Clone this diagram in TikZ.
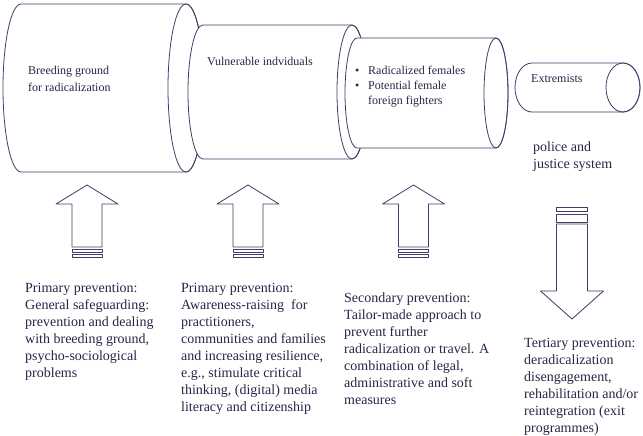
\documentclass[tikz,border=0pt]{standalone}
\usepackage{fontspec}
\setmainfont{Liberation Serif}
\definecolor{lc}{RGB}{62,62,104}
\definecolor{tc}{RGB}{38,38,72}
\newcommand{\cyl}[5]{%
 \filldraw[shapeline, fill=white] ({#1},{#3-#5}) -- ({#2},{#3-#5})
   .. controls ({#2+0.5523*#4},{#3-#5}) and ({#2+#4},{#3-0.5523*#5}) .. ({#2+#4},{#3})
   .. controls ({#2+#4},{#3+0.5523*#5}) and ({#2+0.5523*#4},{#3+#5}) .. ({#2},{#3+#5})
   -- ({#1},{#3+#5})
   .. controls ({#1-0.5523*#4},{#3+#5}) and ({#1-#4},{#3+0.5523*#5}) .. ({#1-#4},{#3})
   .. controls ({#1-#4},{#3-0.5523*#5}) and ({#1-0.5523*#4},{#3-#5}) .. cycle;
 \draw[shapeline] ({#2},{#3}) ellipse [x radius=#4pt, y radius=#5pt];
}
\newcommand{\uparrowshape}[1]{%
 \draw[shapeline] ({#1},185) -- ({#1+31},204) -- ({#1+15},204) -- ({#1+15},247)
   -- ({#1-15},247) -- ({#1-15},204) -- ({#1-31},204) -- cycle;
 \draw[shapeline] ({#1-15},249) rectangle ({#1+15},252.5);
 \draw[shapeline] ({#1-15},254.5) rectangle ({#1+15},257);
}
\newcommand{\lns}[1]{\begin{tabular}[t]{@{}l@{}}#1\end{tabular}}
\tikzset{
 shapeline/.style={draw=lc, line width=0.8pt, line join=round},
 small/.style={text=tc, inner sep=0pt, anchor=base west, font=\fontsize{12}{16.5}\selectfont},
 big/.style={text=tc, inner sep=0pt, anchor=base west, font=\fontsize{14}{17}\selectfont},
}
\begin{document}
\begin{tikzpicture}[x=1pt, y=-1pt]
\useasboundingbox[fill=white] (0,0) rectangle (643,436);
% cylinders
\cyl{21}{186}{88}{18}{84}
\cyl{203}{352}{92}{15}{67}
\cyl{357}{496}{93}{12}{55}
\cyl{532}{623}{87.5}{17}{24.5}
% cylinder texts
\node[small] (breed) at (28,75) {\lns{Breeding ground\\ for radicalization}};
\node[small] (vuln) at (207,66) {Vulnerable indviduals};
\node[small] (b1) at (355,75) {•};
\node[small] (rad) at (368,75) {Radicalized females};
\node[small] (b2) at (355,90) {•};
\node[small] (pot) at (368,90) {\fontsize{12}{14.5}\selectfont\lns{Potential female\\ foreign fighters}};
\node[small] (ext) at (531,83) {Extremists};
\node[big] (police) at (533,151.5) {\lns{police and\\ justice system}};
% arrows
\uparrowshape{87}
\uparrowshape{248}
\uparrowshape{413.5}
\draw[shapeline] (572,319) -- (603.5,291) -- (587.5,291) -- (587.5,224)
  -- (556.5,224) -- (556.5,291) -- (540.5,291) -- cycle;
\draw[shapeline] (556.5,214) rectangle (587.5,222);
\draw[shapeline] (556.5,207) rectangle (587.5,211);
% bottom texts
\node[big] (prim1) at (25,292.5) {\lns{Primary prevention:\\ General safeguarding:\\ prevention and dealing\\ with breeding ground,\\ psycho-sociological\\ problems}};
\node[big] (prim2) at (181,292.5) {\lns{Primary prevention:\\ Awareness-raising\ \ for\\ practitioners,\\ communities and families\\ and increasing resilience,\\ e.g., stimulate critical\\ thinking, (digital) media\\ literacy and citizenship}};
\node[big] (sec) at (344,302.5) {\lns{Secondary prevention:\\ Tailor-made approach to\\ prevent further\\ radicalization or travel. A\\ combination of legal,\\ administrative and soft\\ measures}};
\node[big] (tert) at (524,347.5) {\lns{Tertiary prevention:\\ deradicalization\\ disengagement,\\ rehabilitation and/or\\ reintegration (exit\\ programmes)}};
\end{tikzpicture}
\end{document}
